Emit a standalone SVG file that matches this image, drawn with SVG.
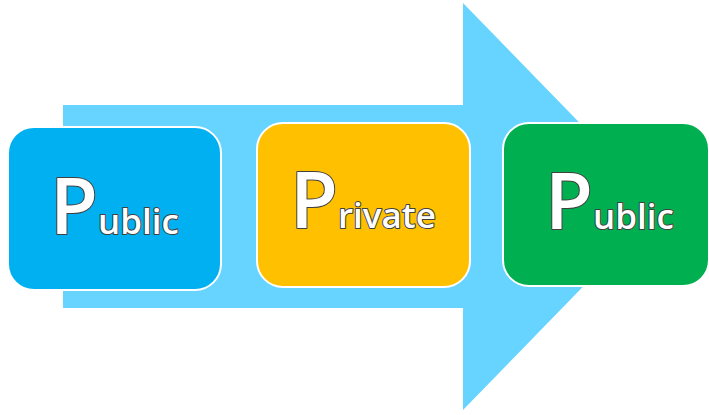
<svg xmlns="http://www.w3.org/2000/svg" width="709" height="415" viewBox="0 0 709 415">
<style>
.box{stroke:#ffffff;stroke-width:2}
.lbl{font-family:"Open Sans","Liberation Sans",sans-serif;font-weight:600;fill:#ffffff;stroke:#404040;stroke-width:2;paint-order:stroke;stroke-linejoin:round}
.big{font-size:78px}
.small{font-size:35px}
</style>
<rect width="709" height="415" fill="#ffffff"/>
<g id="connectors">
<path d="M63,105 H463 V3 L661,206.5 L463,410 V308 H63 Z" fill="#66D4FF"/>
</g>
<g id="node-public-1">
<rect class="box" x="8" y="127" width="213" height="163" rx="26" fill="#00B0F0"/>
<text class="lbl" x="50" y="234"><tspan class="big">P</tspan><tspan class="small">ublic</tspan></text>
</g>
<g id="node-private">
<rect class="box" x="257" y="123" width="213" height="164" rx="26" fill="#FFC000"/>
<text class="lbl" x="290" y="228"><tspan class="big">P</tspan><tspan class="small">rivate</tspan></text>
</g>
<g id="node-public-2">
<rect class="box" x="503" y="123" width="206" height="163" rx="26" fill="#00B050"/>
<text class="lbl" x="545" y="229"><tspan class="big">P</tspan><tspan class="small">ublic</tspan></text>
</g>
</svg>
